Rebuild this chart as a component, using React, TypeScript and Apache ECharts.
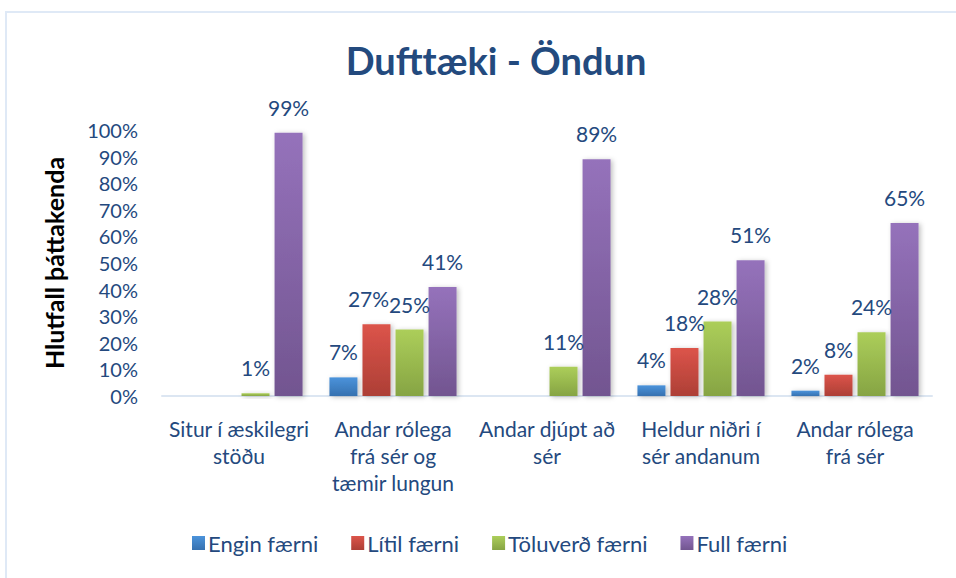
import React, { useEffect, useRef } from "react";
import * as echarts from "echarts";

const categories = [
  "Situr í æskilegri\nstöðu",
  "Andar rólega\nfrá sér og\ntæmir lungun",
  "Andar djúpt að\nsér",
  "Heldur niðri í\nsér andanum",
  "Andar rólega\nfrá sér",
];
const seriesNames = ["Engin færni", "Lítil færni", "Töluverð færni", "Full færni"];
const enginFaerni = [0, 7, 0, 4, 2];
const litilFaerni = [0, 27, 0, 18, 8];
const toluverdFaerni = [1, 25, 11, 28, 24];
const fullFaerni = [99, 41, 89, 51, 65];
const yTicks = [0, 10, 20, 30, 40, 50, 60, 70, 80, 90, 100];

const colorStops: [string, string][] = [
  ["#4b93db", "#3671b0"],
  ["#dc544a", "#ad3f36"],
  ["#acce5a", "#86a443"],
  ["#9572bb", "#725590"],
];

const FONT = "Lato, 'Open Sans', sans-serif";
const TEXT_COLOR = "#24497e";

export default function App() {
  const ref = useRef<HTMLDivElement>(null);
  useEffect(() => {
    if (!ref.current) return;
    const chart = echarts.init(ref.current, undefined, { renderer: "svg" });
    const allData = [enginFaerni, litilFaerni, toluverdFaerni, fullFaerni];
    chart.setOption({
      animation: false,
      backgroundColor: "#ffffff",
      textStyle: { fontFamily: FONT },
      title: {
        text: "Dufttæki - Öndun",
        left: 491,
        top: 36,
        textAlign: "center",
        textStyle: { fontFamily: FONT, fontWeight: "bold", fontSize: 38, color: "#234a7e" },
      },
      graphic: [
        {
          type: "rect",
          shape: { x: 6, y: 12, width: 1000, height: 620 },
          style: { fill: "none", stroke: "#dfe9f6", lineWidth: 2 },
          silent: true,
          z: -1,
        },
      ],
      legend: {
        left: 187,
        top: 527,
        itemWidth: 13,
        itemHeight: 14,
        itemGap: 33,
        icon: "rect",
        data: seriesNames,
        textStyle: { fontFamily: FONT, fontSize: 22, color: TEXT_COLOR, padding: [0, 0, 0, -2] },
      },
      grid: { left: 162, right: 24, top: 130, bottom: 182, containLabel: false },
      xAxis: {
        type: "category",
        data: categories,
        axisLine: { lineStyle: { color: "#dce6f2", width: 2 } },
        axisTick: { show: false },
        axisLabel: {
          interval: 0,
          margin: 19,
          fontFamily: FONT,
          fontSize: 21,
          lineHeight: 27,
          color: TEXT_COLOR,
          verticalAlign: "top",
        },
      },
      yAxis: {
        type: "value",
        min: yTicks[0],
        max: yTicks[yTicks.length - 1],
        interval: 10,
        splitLine: { show: false },
        axisLine: { show: false },
        axisTick: { show: false },
        axisLabel: {
          margin: 24,
          fontFamily: FONT,
          fontSize: 20,
          color: TEXT_COLOR,
          formatter: (v: number) => v + "%",
        },
        name: "Hlutfall þáttakenda",
        nameLocation: "middle",
        nameGap: 96,
        nameRotate: 90,
        nameTextStyle: { fontFamily: FONT, fontWeight: "bold", fontSize: 25, color: "#000000" },
      },
      series: seriesNames.map((name, i) => ({
        name,
        type: "bar",
        barWidth: 28,
        barGap: "18%",
        data: allData[i].map((v, j) => {
          if (v === 0) return null;
          if (i === 1 && j === 1) return { value: v, label: { offset: [-8, 0] } };
          return v;
        }),
        itemStyle: {
          color: new echarts.graphic.LinearGradient(0, 0, 0, 1, [
            { offset: 0, color: colorStops[i][0] },
            { offset: 1, color: colorStops[i][1] },
          ]),
          shadowBlur: 5,
          shadowOffsetX: 2,
          shadowOffsetY: 1,
          shadowColor: "rgba(0,0,0,0.25)",
        },
        label: {
          show: true,
          position: "top",
          distance: 15,
          fontFamily: FONT,
          fontSize: 21,
          color: TEXT_COLOR,
          formatter: (p: any) => (p.value ? p.value + "%" : ""),
        },
      })),
    });
    return () => chart.dispose();
  }, []);
  return <div ref={ref} style={{ width: 956, height: 578, position: "absolute", left: 0, top: 0 }} />;
}
